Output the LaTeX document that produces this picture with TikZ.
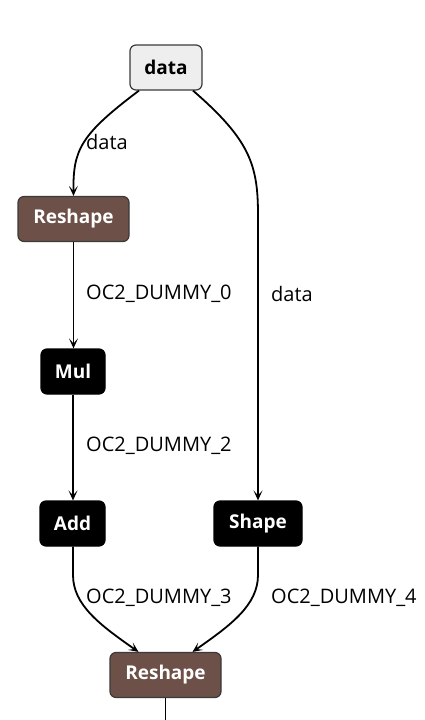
\documentclass[tikz,border=0pt]{standalone}
\usepackage{fontspec}
\setmainfont{Open Sans}
\usetikzlibrary{arrows.meta}
\definecolor{brownfill}{HTML}{6D5047}
\definecolor{grayfill}{HTML}{EEEEEE}
\definecolor{edgegray}{HTML}{3A3A3A}
\tikzset{
  opbox/.style={rectangle, rounded corners=6pt, minimum height=45pt, inner xsep=12pt, font=\fontsize{19}{22}\selectfont\bfseries, line width=1.2pt},
  inbox/.style={opbox, fill=grayfill, draw=edgegray, text=black},
  brownbox/.style={opbox, fill=brownfill, draw=edgegray, text=white},
  blackbox/.style={opbox, fill=black, draw=black, text=white},
  conn/.style={draw=black, line width=1.8pt, -{Stealth[length=10pt,width=9pt,inset=5pt]}},
  elabel/.style={anchor=west, inner sep=0pt, font=\fontsize{20}{23}\selectfont}
}
\begin{document}
\begin{tikzpicture}[x=1pt,y=-1pt]
\useasboundingbox (0,0) rectangle (424,720);
\node[inbox, minimum width=72pt] (data) at (166,67.5) {data};
\node[brownbox, minimum width=111pt] (resh1) at (73.5,219) {Reshape};
\node[blackbox, minimum width=64pt] (mul) at (73,371.5) {Mul};
\node[blackbox, minimum width=65pt] (add) at (72.5,523.5) {Add};
\node[blackbox, minimum width=88pt] (shape) at (258,523.5) {Shape};
\node[brownbox, minimum width=111pt] (resh2) at (165.5,675) {Reshape};
\coordinate (bottom) at (165.5,720);

\draw[conn] ([xshift=-27pt]data.south) .. controls (80,135) and (73,150) .. (resh1.north);
\draw[conn] ([xshift=27pt]data.south) .. controls (250,140) and (258,165) .. (258,215) -- (shape.north);
\draw[conn] (resh1.south) -- (mul.north -| resh1.south);
\draw[conn] (mul.south) -- (add.north -| mul.south);
\draw[conn] (add.south -| mul.south) -- (73,575) .. controls (73,605) and (100,625) .. ([xshift=-27pt]resh2.north);
\draw[conn] (shape.south) -- (258,575) .. controls (258,605) and (231,625) .. ([xshift=27pt]resh2.north);
\draw[line width=1.8pt] (resh2.south) -- (bottom);

\node[elabel] (l1) at (86,142) {data};
\node[elabel] (l2) at (271,294) {data};
\node[elabel] (l3) at (86,294) {OC2\_DUMMY\_0};
\node[elabel] (l4) at (86,446) {OC2\_DUMMY\_2};
\node[elabel] (l5) at (86,598) {OC2\_DUMMY\_3};
\node[elabel] (l6) at (271,598) {OC2\_DUMMY\_4};
\end{tikzpicture}
\end{document}
